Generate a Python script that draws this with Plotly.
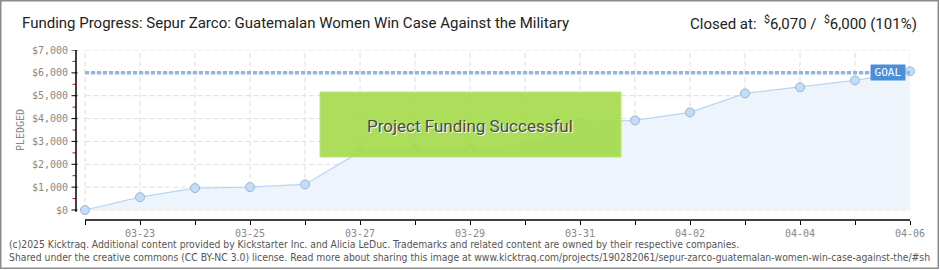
import plotly.graph_objects as go

# ---------------- data ----------------
dates = ["2025-03-22", "2025-03-23", "2025-03-24", "2025-03-25", "2025-03-26",
         "2025-03-27", "2025-03-28", "2025-03-29", "2025-03-30", "2025-03-31",
         "2025-04-01", "2025-04-02", "2025-04-03", "2025-04-04", "2025-04-05",
         "2025-04-06"]
pledged = [0, 560, 960, 1000, 1120, 2550, 2670, 2670, 2780, 3840,
           3920, 4270, 5100, 5370, 5670, 6070]
goal = 6000
x_tick_labels = ["", "03-23", "", "03-25", "", "03-27", "", "03-29", "",
                 "03-31", "", "04-02", "", "04-04", "", "04-06"]
y_tick_values = [0, 1000, 2000, 3000, 4000, 5000, 6000, 7000]
y_tick_labels = ["$0", "$1,000", "$2,000", "$3,000", "$4,000", "$5,000",
                 "$6,000", "$7,000"]
y_minor_values = [500, 1500, 2500, 3500, 4500, 5500, 6500]
title_text = "Funding Progress: Sepur Zarco: Guatemalan Women Win Case Against the Military"
footer_1 = ("(c)2025 Kicktraq. Additional content provided by Kickstarter Inc. and Alicia LeDuc. "
            "Trademarks and related content are owned by their respective companies.")
footer_2 = ("Shared under the creative commons (CC BY-NC 3.0) license. Read more about sharing this image at "
            "www.kicktraq.com/projects/190282061/sepur-zarco-guatemalan-women-win-case-against-the/#sh")

# ---------------- layout geometry ----------------
W, H = 940, 270
L, R, T, B = 76, 910, 50, 220
PW, PH = R - L, B - T


def px(x):
    return (x - L) / PW


def py(y):
    return (B - y) / PH


mono = "DejaVu Sans Mono, monospace"
sans = "Roboto, Liberation Sans, sans-serif"
narrow = "Liberation Sans Narrow, DejaVu Sans Condensed, sans-serif"

fig = go.Figure()

# area + line + markers
fig.add_trace(go.Scatter(
    x=dates, y=pledged, mode="lines+markers",
    line=dict(color="#b7d6f4", width=1.2),
    fill="tozeroy", fillcolor="#edf4fc",
    marker=dict(size=9, color="#c4ddf7", line=dict(color="#97b5d6", width=1)),
    hoverinfo="skip", showlegend=False, cliponaxis=False,
))

# goal line
fig.add_trace(go.Scatter(
    x=[dates[0], dates[-1]], y=[goal, goal], mode="lines",
    line=dict(color="#8fb5e3", width=3.5, dash="4px,2px"),
    hoverinfo="skip", showlegend=False,
))

shapes = []
# grid lines
for d in dates:
    shapes.append(dict(type="line", xref="x", yref="y", x0=d, x1=d, y0=0, y1=7000,
                       line=dict(color="#dedede", width=1, dash="5px,3px"), layer="below"))
for v in y_tick_values:
    shapes.append(dict(type="line", xref="x", yref="y", x0=dates[0], x1=dates[-1], y0=v, y1=v,
                       line=dict(color="#dedede", width=1, dash="5px,3px"), layer="below"))
# major (black) and minor (red) y ticks
for v in y_tick_values:
    shapes.append(dict(type="line", xref="paper", yref="y", x0=px(71.5), x1=px(77.5), y0=v, y1=v,
                       line=dict(color="#000000", width=1)))
for v in y_minor_values:
    shapes.append(dict(type="line", xref="paper", yref="y", x0=px(72.5), x1=px(76), y0=v, y1=v,
                       line=dict(color="#e00000", width=1)))
# axis lines
shapes.append(dict(type="line", xref="paper", yref="y", x0=0, x1=0, y0=-80, y1=7000,
                   line=dict(color="#000", width=1.5)))
shapes.append(dict(type="line", xref="x", yref="paper", x0=dates[0], x1=dates[-1], y0=0, y1=0,
                   line=dict(color="#000", width=1.5)))
# success box
shapes.append(dict(type="rect", xref="paper", yref="paper",
                   x0=px(320), x1=px(621), y0=py(157), y1=py(92),
                   fillcolor="#a6db4f", opacity=0.93,
                   line=dict(color="#b9e56e", width=1), layer="above"))
# outer border
shapes.append(dict(type="rect", xref="paper", yref="paper",
                   x0=px(0.75), x1=px(938.25), y0=py(268.25), y1=py(0.75),
                   line=dict(color="#8c8c8c", width=1.5)))

pct = round(pledged[-1] / goal * 100)
annotations = [
    dict(text=title_text, xref="paper", yref="paper", x=px(20), y=py(23),
         xanchor="left", yanchor="middle", showarrow=False,
         font=dict(family=sans, size=15, color="#222")),
    dict(text="Closed at:  <sup>$</sup>{:,} /  <sup>$</sup>{:,} ({}%)".format(pledged[-1], goal, pct),
         xref="paper", yref="paper", x=px(919), y=py(23),
         xanchor="right", yanchor="middle", showarrow=False,
         font=dict(family=sans, size=15, color="#222")),
    dict(text="PLEDGED", xref="paper", yref="paper", x=px(20), y=py(130),
         xanchor="center", yanchor="middle", textangle=-90, showarrow=False,
         font=dict(family=mono, size=10, color="#888")),
    dict(text="Project Funding Successful", xref="paper", yref="paper",
         x=px(470), y=py(126), xanchor="center", yanchor="middle", showarrow=False,
         font=dict(family=sans, size=17, color="#4a4a4a", shadow="1px 1px 0px #ffffff")),
    dict(text="GOAL", xref="paper", yref="y", x=px(888), y=goal,
         xanchor="center", yanchor="middle", showarrow=False,
         bgcolor="#4a8fd8", borderpad=1, width=32,
         font=dict(family=mono, size=11, color="#ffffff")),
    dict(text=footer_1, xref="paper", yref="paper", x=px(7), y=py(244),
         xanchor="left", yanchor="middle", showarrow=False,
         font=dict(family=narrow, size=10.3, color="#555")),
    dict(text=footer_2, xref="paper", yref="paper", x=px(7), y=py(257),
         xanchor="left", yanchor="middle", showarrow=False,
         font=dict(family=narrow, size=10.3, color="#555")),
]

fig.update_layout(
    width=W, height=H, autosize=False,
    margin=dict(l=L, r=W - R, t=T, b=H - B, pad=0),
    paper_bgcolor="#ffffff", plot_bgcolor="#ffffff",
    shapes=shapes, annotations=annotations,
    xaxis=dict(
        type="date",
        range=["2025-03-21 20:04:22", "2025-04-06 00:00:00"],
        tickmode="array", tickvals=dates, ticktext=x_tick_labels,
        ticks="outside", ticklen=4, tickcolor="#000", tickwidth=1,
        showgrid=False, zeroline=False, showline=False,
        tickfont=dict(family=mono, size=10, color="#888"),
        fixedrange=True,
    ),
    yaxis=dict(
        range=[-437.5, 7000],
        tickmode="array", tickvals=y_tick_values, ticktext=y_tick_labels,
        ticks="", ticklabelstandoff=7,
        showgrid=False, zeroline=False, showline=False,
        tickfont=dict(family=mono, size=10, color="#888"),
        fixedrange=True,
    ),
)

fig.write_html("out.html")
